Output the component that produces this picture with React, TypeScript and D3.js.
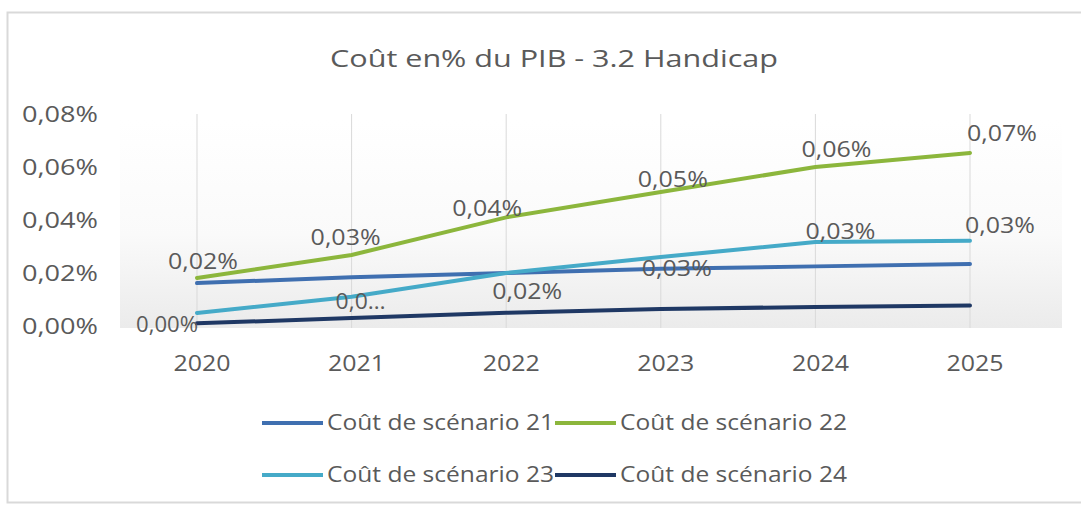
import React from "react";
import * as d3 from "d3";

const years = ["2020", "2021", "2022", "2023", "2024", "2025"];
const yTicks = [0, 0.0002, 0.0004, 0.0006, 0.0008];
const seriesNames = ["Coût de scénario 21", "Coût de scénario 22", "Coût de scénario 23", "Coût de scénario 24"];
const seriesColors = ["#3f6fb0", "#8cb63c", "#45aac8", "#1f3864"];
const s21 = [0.000162, 0.000184, 0.0002, 0.000216, 0.000225, 0.000234];
const s22 = [0.000181, 0.000268, 0.00041, 0.000506, 0.0006, 0.000653];
const s23 = [0.000049, 0.00011, 0.0002, 0.00026, 0.000317, 0.000322];
const s24 = [0.00001, 0.00003, 0.00005, 0.000064, 0.000072, 0.000077];
const seriesValues = [s21, s22, s23, s24];

// data labels as shown on the chart: series index, year index, text
const labelText = [
  { s: 1, i: 0, t: "0,02%", dx: 6, dy: -9, w: 70 },
  { s: 3, i: 0, t: "0,00%", dx: -30, dy: 9, w: 62 },
  { s: 1, i: 1, t: "0,03%", dx: -6, dy: -10, w: 70 },
  { s: 2, i: 1, t: "0,0…", dx: 9, dy: 12, w: 50 },
  { s: 1, i: 2, t: "0,04%", dx: -19, dy: -1, w: 70 },
  { s: 2, i: 2, t: "0,02%", dx: 21, dy: 26, w: 70 },
  { s: 1, i: 3, t: "0,05%", dx: 12, dy: -5, w: 70 },
  { s: 0, i: 3, t: "0,03%", dx: 16, dy: 7, w: 70 },
  { s: 1, i: 4, t: "0,06%", dx: 21, dy: -10, w: 70 },
  { s: 2, i: 4, t: "0,03%", dx: 25, dy: -3, w: 70 },
  { s: 1, i: 5, t: "0,07%", dx: 32, dy: -12, w: 70 },
  { s: 2, i: 5, t: "0,03%", dx: 30, dy: -8, w: 70 },
];

const font = "'Open Sans', sans-serif";
const grey = "#5a5a5a";

function T(props: any) {
  const { w, children, ...rest } = props;
  return (
    <text fontFamily={font} fill={grey} textLength={w} lengthAdjust="spacingAndGlyphs" {...rest}>
      {children}
    </text>
  );
}

export default function App() {
  const W = 1081, H = 508;
  const x = d3.scalePoint<string>().domain(years).range([197, 970]);
  const y = d3.scaleLinear().domain([0, 0.0008]).range([326, 114]);
  const fmt = (v: number) => d3.format(".2%")(v).replace(".", ",");
  const line = d3.line<number>().x((_, i) => x(years[i])!).y((v) => y(v));

  return (
    <svg width={W} height={H} style={{ position: "absolute", left: 0, top: 0, background: "#fff" }}>
      <defs>
        <linearGradient id="pa" x1="0" y1="0" x2="0" y2="1">
          <stop offset="0" stopColor="#ffffff" />
          <stop offset="0.55" stopColor="#fafafa" />
          <stop offset="1" stopColor="#ebebeb" />
        </linearGradient>
      </defs>
      <rect x={7.5} y={12.5} width={1090} height={490} fill="#fff" stroke="#d9d9d9" strokeWidth={2} />
      <rect x={120} y={120} width={942} height={208} fill="url(#pa)" />
      <T x={554} y={67} textAnchor="middle" fontSize={24} w={448}>
        Coût en% du PIB - 3.2 Handicap
      </T>
      {years.map((yr) => (
        <line key={yr} x1={x(yr)} x2={x(yr)} y1={114} y2={328} stroke="#d9d9d9" strokeWidth={1} />
      ))}
      {yTicks.map((t) => (
        <T key={t} x={98} y={y(t) + 8} textAnchor="end" fontSize={21} w={76}>
          {fmt(t)}
        </T>
      ))}
      {years.map((yr) => (
        <T key={yr} x={x(yr)! + 5} y={371} textAnchor="middle" fontSize={21} w={57}>
          {yr}
        </T>
      ))}
      {seriesValues.map((vals, k) => (
        <path key={k} d={line(vals)!} fill="none" stroke={seriesColors[k]} strokeWidth={4} strokeLinecap="round" />
      ))}
      {labelText.map((l, k) => (
        <T
          key={k}
          x={x(years[l.i])! + l.dx}
          y={y(seriesValues[l.s][l.i]) + l.dy}
          textAnchor="middle"
          fontSize={21}
          w={l.w}
        >
          {l.t}
        </T>
      ))}
      {seriesNames.map((n, k) => {
        const lx = k % 2 === 0 ? 262 : 555;
        const ly = k < 2 ? 423 : 475;
        return (
          <g key={n}>
            <line x1={lx} x2={lx + 61} y1={ly} y2={ly} stroke={seriesColors[k]} strokeWidth={4} />
            <T x={lx + 65} y={ly + 7} fontSize={21} w={227}>
              {n}
            </T>
          </g>
        );
      })}
    </svg>
  );
}
